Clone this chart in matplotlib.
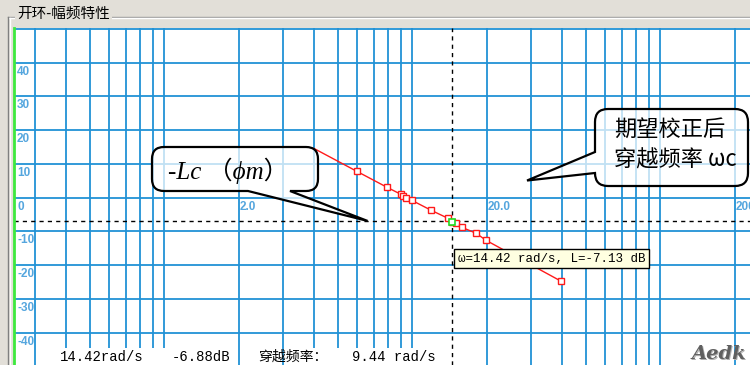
import matplotlib.pyplot as plt
from matplotlib.path import Path
from matplotlib.patches import PathPatch, Rectangle
from matplotlib.lines import Line2D
from matplotlib.transforms import IdentityTransform
from matplotlib.ticker import NullLocator

# open-loop magnitude samples: frequency (rad/s) and gain (dB)
omega = [4.01, 5.98, 7.90, 9.00, 9.17, 9.44, 9.97, 11.89, 13.93, 14.42,
         15.0, 15.86, 18.06, 19.8, 39.7]
mag_db = [14.6, 7.8, 3.1, 1.0, 0.4, 0.0, -0.8, -3.7, -6.1, -7.13,
          -7.6, -8.8, -10.5, -12.6, -24.7]

w_cursor = 14.42   # cursor frequency
L_cursor = -7.13   # gain at cursor
Lc_db = -6.88      # -Lc(phi_m) level
w_cut = 9.44       # crossover frequency

x_grid = [0.3, 0.4, 0.5, 0.6, 0.7, 0.8, 0.9, 1, 2, 3, 4, 5, 6, 7, 8, 9,
          10, 20, 30, 40, 50, 60, 70, 80, 90, 100, 200]
x_tick_vals = [2, 20, 200]
x_tick_text = ['2.0', '20.0', '200.0']
y_grid = [-40, -30, -20, -10, 0, 10, 20, 30, 40, 50]
y_tick_vals = [40, 30, 20, 10, 0, -10, -20, -30, -40]

W, H = 750, 365
bg = '#e2dfd8'
grid_c = '#2192d6'
lab_c = '#55a6de'
cjk = ['Noto Sans CJK SC', 'DejaVu Sans']
mono = ['Liberation Mono', 'DejaVu Sans Mono', 'Noto Sans CJK SC']

fig = plt.figure(figsize=(W / 100, H / 100), dpi=100, facecolor=bg)


def px(x, y):
    # image pixel (y down) -> figure fraction
    return x / W, 1 - y / H


# plot area: log frequency axis, one decade = 248 px
ax = fig.add_axes([14 / W, 0, (W - 14) / W, (H - 28.3) / H])
ax.set_xscale('log')
ax.set_xlim(0.2477, 229.8)
ax.set_ylim(-49.56, 50.2)
ax.set_facecolor('white')
ax.set_xticks(x_grid)
ax.set_yticks(y_grid)
ax.xaxis.set_minor_locator(NullLocator())
ax.tick_params(length=0, labelbottom=False, labelleft=False)
ax.grid(True, color=grid_c, lw=1.3, zorder=0)
ax.set_axisbelow(True)
for s in ['top', 'right', 'bottom']:
    ax.spines[s].set_visible(False)
ax.spines['left'].set_color('#3ee83e')
ax.spines['left'].set_linewidth(2)

for v in y_tick_vals:
    ax.annotate(str(v), xy=(0, v), xycoords=('axes fraction', 'data'),
                xytext=(3, -3), textcoords='offset pixels', ha='left', va='top',
                color=lab_c, fontsize=8.5, fontweight='bold', family='Liberation Sans')
for v, t in zip(x_tick_vals, x_tick_text):
    ax.annotate(t, xy=(v, 0), xytext=(1, -3), textcoords='offset pixels',
                ha='left', va='top', color=lab_c, fontsize=8.5,
                fontweight='bold', family='Liberation Sans', annotation_clip=False)

# cursor cross-hair
ax.axhline(Lc_db, color='black', lw=1, dashes=(3, 3), zorder=2)
ax.axvline(w_cursor, color='black', lw=1, dashes=(3, 3), zorder=2)

# magnitude curve
ax.plot(omega, mag_db, color='#ff1a1a', lw=1, marker='s', ms=4, mfc='white',
        mec='#ff1a1a', mew=1, markevery=list(range(1, len(omega))), zorder=3)
ax.plot([w_cursor], [L_cursor], 's', ms=4.5, mfc='white', mec='#22dd22', mew=1.2, zorder=4)


def bubble(x0, y0, x1, y1, r, side, a, b, tip):
    # rounded box with a pointer on the bottom or left edge, pixel coords (y down)
    tx, ty = tip
    pts = [(x0 + r, y0), (x1 - r, y0), (x1, y0), (x1, y0 + r), (x1, y1 - r),
           (x1, y1), (x1 - r, y1)]
    codes = [Path.MOVETO, Path.LINETO, Path.CURVE3, Path.CURVE3, Path.LINETO,
             Path.CURVE3, Path.CURVE3]
    if side == 'bottom':
        pts += [(b, y1), (tx, ty), (a, y1)]
        codes += [Path.LINETO] * 3
    pts += [(x0 + r, y1), (x0, y1), (x0, y1 - r)]
    codes += [Path.LINETO, Path.CURVE3, Path.CURVE3]
    if side == 'left':
        pts += [(x0, b), (tx, ty), (x0, a)]
        codes += [Path.LINETO] * 3
    pts += [(x0, y0 + r), (x0, y0), (x0 + r, y0), (x0 + r, y0)]
    codes += [Path.LINETO, Path.CURVE3, Path.CURVE3, Path.CLOSEPOLY]
    verts = [(x, H - y) for x, y in pts]
    return PathPatch(Path(verts, codes), transform=IdentityTransform(),
                     facecolor=(1, 1, 1, 0.72), edgecolor='black', lw=1.6, zorder=6)


fig.canvas.draw()
tip1 = ax.transData.transform((6.6, Lc_db))
tip2 = ax.transData.transform((29.0, 5.1))
fig.patches.append(bubble(152, 147, 318, 191, 12, 'bottom', 248, 290,
                          (tip1[0], H - tip1[1])))
fig.patches.append(bubble(595, 109, 748, 186, 13, 'left', 152, 173,
                          (tip2[0], H - tip2[1])))

fig.text(*px(168, 171), '-Lc （ϕm）', ha='left', va='center', fontsize=18,
         style='italic', family=['Liberation Serif', 'Noto Sans CJK SC'], zorder=7)
fig.text(*px(614, 129), '期望校正后', ha='left', va='center', fontsize=16,
         family=cjk, fontweight='light', zorder=7)
fig.text(*px(614, 160), '穿越频率 ωc', ha='left', va='center', fontsize=16,
         family=cjk, fontweight='light', zorder=7)

# cursor read-out
fig.text(*px(458, 258.5), f'ω={w_cursor:.2f} rad/s, L={L_cursor:.2f} dB',
         ha='left', va='center', fontsize=9, family=mono, zorder=8,
         bbox=dict(boxstyle='square,pad=0.3', fc='#ffffe1', ec='black', lw=1))

# status line at the bottom
for x0, x1 in [(55, 232), (305, 440)]:
    fig.patches.append(Rectangle((x0, 0), x1 - x0, H - 348, transform=IdentityTransform(),
                                 facecolor='white', edgecolor='none', zorder=5))
fig.text(*px(60, 357), f'{w_cursor:.2f}rad/s', ha='left', va='center',
         fontsize=10, family=mono, zorder=8)
fig.text(*px(172, 357), f'{Lc_db:.2f}dB', ha='left', va='center',
         fontsize=10, family=mono, zorder=8)
fig.text(*px(258, 357), '穿越频率：', ha='left', va='center',
         fontsize=10, family=cjk, zorder=8)
fig.text(*px(352, 357), f'{w_cut:.2f} rad/s', ha='left', va='center',
         fontsize=10, family=mono, zorder=8)

fig.text(*px(720, 355), 'Aedk', ha='center', va='center', fontsize=14,
         style='italic', fontweight='bold', family='DejaVu Serif', color='#b0b0b0', zorder=8)
fig.text(*px(719, 354), 'Aedk', ha='center', va='center', fontsize=14,
         style='italic', fontweight='bold', family='DejaVu Serif', color='#606060', zorder=9)

# group box frame and caption
fig.lines.append(Line2D([8, W], [H - 17, H - 17], transform=IdentityTransform(),
                        color='#9a9a9a', lw=1))
fig.lines.append(Line2D([9, W], [H - 18, H - 18], transform=IdentityTransform(),
                        color='white', lw=1))
fig.lines.append(Line2D([8, 8], [0, H - 17], transform=IdentityTransform(),
                        color='#808080', lw=1))
fig.lines.append(Line2D([9.5, 9.5], [0, H - 18], transform=IdentityTransform(),
                        color='white', lw=1))
fig.text(*px(17, 14), '开环-幅频特性', ha='left', va='center', fontsize=10.5,
         family=cjk, bbox=dict(boxstyle='square,pad=0.15', fc=bg, ec='none'))

fig.savefig('out.png', dpi=100, facecolor=bg)
